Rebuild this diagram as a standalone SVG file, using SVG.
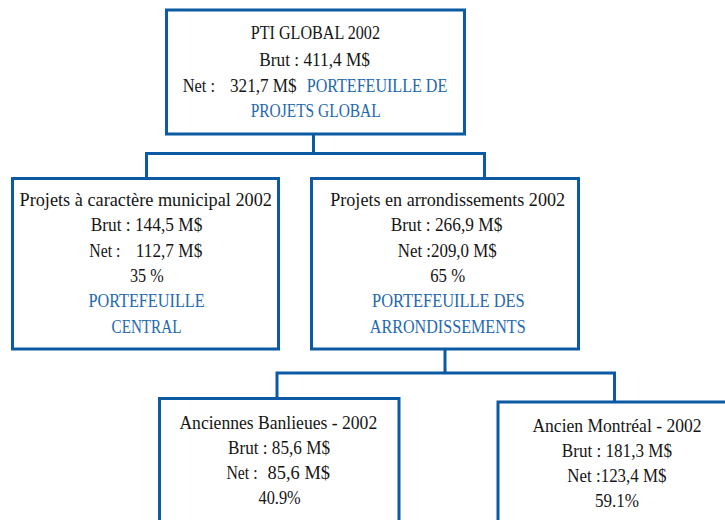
<svg xmlns="http://www.w3.org/2000/svg" width="725" height="520" viewBox="0 0 725 520">
<style>
.box{fill:#fff;stroke:#0b5aa3;stroke-width:3}
.con{fill:none;stroke:#0b5aa3;stroke-width:3;stroke-linejoin:miter}
text{font-family:'Liberation Serif','Times New Roman',serif;font-size:19px;fill:#151515}
.bl{fill:#2468ae}
</style>
<rect width="725" height="520" fill="#fff"/>
<g id="connectors">
<path class="con" d="M313.5 134 V153.5 M146.5 178.5 V153.5 H484.5 V178.5"/>
<path class="con" d="M445 349 V373 M277 398.5 V373 H614.5 V402"/>
</g>
<g id="pti-global" font-family="Liberation Serif, serif">
<rect class="box" x="166.5" y="10" width="298" height="124"/>
<text x="250.7" y="39.3" textLength="129.3" lengthAdjust="spacingAndGlyphs">PTI GLOBAL 2002</text>
<text x="259.3" y="65.5" textLength="110.7" lengthAdjust="spacingAndGlyphs">Brut : 411,4 M$</text>
<text x="182.7" y="91.5" textLength="32.3" lengthAdjust="spacingAndGlyphs">Net :</text>
<text x="230" y="91.5" textLength="66.7" lengthAdjust="spacingAndGlyphs">321,7 M$</text>
<text class="bl" x="306.7" y="91.5" textLength="140.6" lengthAdjust="spacingAndGlyphs">PORTEFEUILLE DE</text>
<text class="bl" x="250.7" y="116.5" textLength="130" lengthAdjust="spacingAndGlyphs">PROJETS GLOBAL</text>
</g>
<g id="portefeuille-central">
<rect class="box" x="12.5" y="178.5" width="266" height="170.5"/>
<text x="19.5" y="205.7" textLength="252.5" lengthAdjust="spacingAndGlyphs">Projets à caractère municipal 2002</text>
<text x="90.7" y="230.9" textLength="111.6" lengthAdjust="spacingAndGlyphs">Brut : 144,5 M$</text>
<text x="89.3" y="256.5" textLength="31" lengthAdjust="spacingAndGlyphs">Net :</text>
<text x="135.8" y="256.5" textLength="66.5" lengthAdjust="spacingAndGlyphs">112,7 M$</text>
<text x="130" y="281.7" textLength="33.7" lengthAdjust="spacingAndGlyphs">35 %</text>
<text class="bl" x="88.4" y="306.7" textLength="116.3" lengthAdjust="spacingAndGlyphs">PORTEFEUILLE</text>
<text class="bl" x="111.6" y="332.5" textLength="69.8" lengthAdjust="spacingAndGlyphs">CENTRAL</text>
</g>
<g id="portefeuille-arrondissements">
<rect class="box" x="311.5" y="178.5" width="267" height="170.5"/>
<text x="330.2" y="205.7" textLength="234.9" lengthAdjust="spacingAndGlyphs">Projets en arrondissements 2002</text>
<text x="390.7" y="230.9" textLength="111.6" lengthAdjust="spacingAndGlyphs">Brut : 266,9 M$</text>
<text x="397.7" y="256.5" textLength="99" lengthAdjust="spacingAndGlyphs">Net :209,0 M$</text>
<text x="430.2" y="281.7" textLength="34.9" lengthAdjust="spacingAndGlyphs">65 %</text>
<text class="bl" x="372" y="306.7" textLength="152.7" lengthAdjust="spacingAndGlyphs">PORTEFEUILLE DES</text>
<text class="bl" x="369.8" y="332.5" textLength="155.8" lengthAdjust="spacingAndGlyphs">ARRONDISSEMENTS</text>
</g>
<g id="anciennes-banlieues">
<rect class="box" x="159.5" y="398.5" width="239.5" height="140"/>
<text x="179.4" y="428.5" textLength="197.8" lengthAdjust="spacingAndGlyphs">Anciennes Banlieues - 2002</text>
<text x="228" y="453.5" textLength="102" lengthAdjust="spacingAndGlyphs">Brut : 85,6 M$</text>
<text x="226.5" y="478.5" textLength="31" lengthAdjust="spacingAndGlyphs">Net :</text>
<text x="267.6" y="478.5" textLength="62.4" lengthAdjust="spacingAndGlyphs">85,6 M$</text>
<text x="258.5" y="503.5" textLength="42.2" lengthAdjust="spacingAndGlyphs">40.9%</text>
</g>
<g id="ancien-montreal">
<rect class="box" x="498" y="402" width="240" height="140"/>
<text x="532.4" y="431.7" textLength="169.1" lengthAdjust="spacingAndGlyphs">Ancien Montréal - 2002</text>
<text x="561.8" y="456.7" textLength="110.2" lengthAdjust="spacingAndGlyphs">Brut : 181,3 M$</text>
<text x="567.3" y="481.7" textLength="99.2" lengthAdjust="spacingAndGlyphs">Net :123,4 M$</text>
<text x="594.9" y="506.7" textLength="44.1" lengthAdjust="spacingAndGlyphs">59.1%</text>
</g>
</svg>
